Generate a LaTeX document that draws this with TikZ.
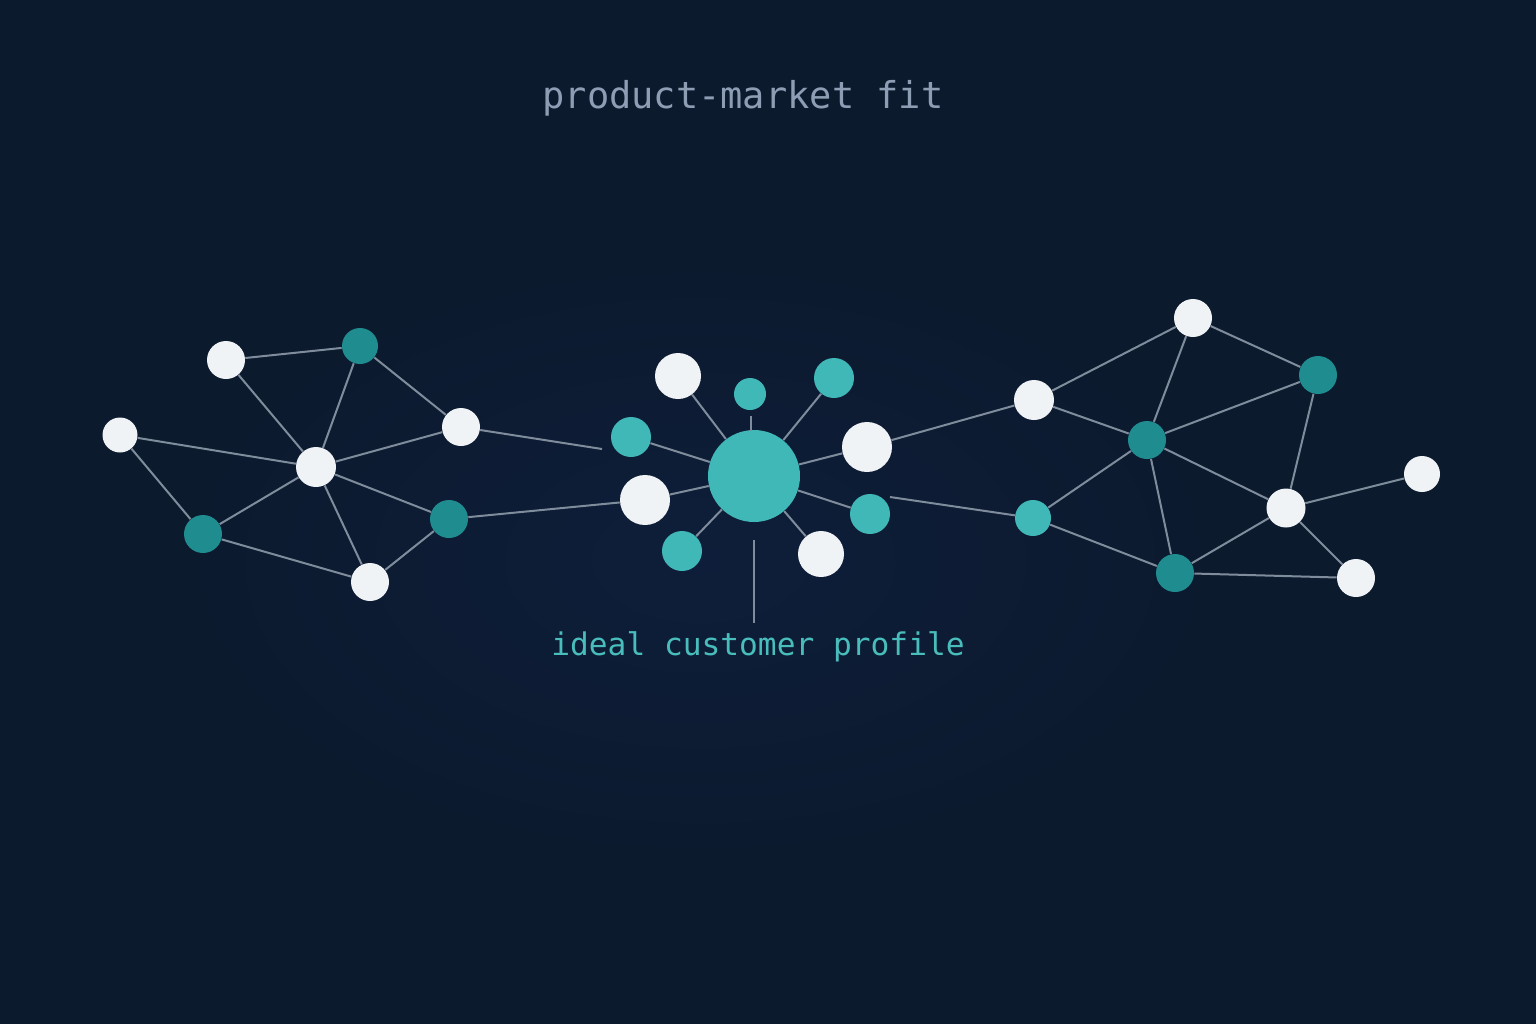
\documentclass[tikz,border=0pt]{standalone}
\usepackage{fontspec}
\setmonofont{DejaVu Sans Mono}
\definecolor{bg}{HTML}{0C1A2E}
\definecolor{bg2}{HTML}{0E1E3A}
\definecolor{wcol}{HTML}{F0F3F6}
\definecolor{tdk}{HTML}{1F8C90}
\definecolor{tlt}{HTML}{40B8B8}
\definecolor{edge}{HTML}{7F8C9C}
\definecolor{titlec}{HTML}{8D9DB3}
\definecolor{labc}{HTML}{48BDBB}
\tikzset{
  nd/.style={circle,inner sep=0pt,minimum size=#1*0.5pt},
  wn/.style={nd=#1,fill=wcol},
  dn/.style={nd=#1,fill=tdk},
  ln/.style={nd=#1,fill=tlt},
  ed/.style={draw=edge,line width=1pt},
}
\begin{document}
\begin{tikzpicture}[x=0.5pt,y=-0.5pt]
\fill[bg] (0,0) rectangle (1536,1024);
\useasboundingbox (0,0) rectangle (1536,1024);
\shade[inner color=bg2,outer color=bg] (700,560) ellipse (520 and 300);
% left cluster
\node[wn=38] (L1) at (226,360) {};
\node[dn=36] (L2) at (360,346) {};
\node[wn=35] (L3) at (120,435) {};
\node[wn=40] (L4) at (316,467) {};
\node[wn=38] (L5) at (461,427) {};
\node[dn=38] (L6) at (203,534) {};
\node[dn=38] (L7) at (449,519) {};
\node[wn=38] (L8) at (370,582) {};
% hub
\node[ln=92] (C) at (754,476) {};
\node[wn=46] (H1) at (678,376) {};
\node[ln=32] (H2) at (750,394) {};
\node[ln=40] (H3) at (834,378) {};
\node[ln=40] (H4) at (631,437) {};
\node[wn=50] (H5) at (867,447) {};
\node[wn=50] (H6) at (645,500) {};
\node[ln=40] (H7) at (870,514) {};
\node[ln=40] (H8) at (682,551) {};
\node[wn=46] (H9) at (821,554) {};
% right cluster
\node[wn=40] (R1) at (1034,400) {};
\node[wn=38] (R2) at (1193,318) {};
\node[dn=38] (R3) at (1318,375) {};
\node[dn=38] (R4) at (1147,440) {};
\node[wn=36] (R5) at (1422,474) {};
\node[wn=39] (R6) at (1286,508) {};
\node[ln=36] (R7) at (1033,518) {};
\node[dn=38] (R8) at (1175,573) {};
\node[wn=38] (R9) at (1356,578) {};
% free ends
\coordinate (e1) at (602,449);
\coordinate (e2) at (890,497);
\coordinate (v1) at (754,540);
\coordinate (v2) at (754,623);
\coordinate (h2a) at (751,416);
\coordinate (h2b) at (751,431);
% edges
\foreach \a/\b in {L1/L2,L1/L4,L2/L4,L2/L5,L3/L4,L3/L6,L4/L5,L4/L6,L4/L7,L4/L8,L6/L8,L8/L7,L7/H6,
  C/H1,C/H3,C/H4,C/H5,C/H6,C/H7,C/H8,C/H9,
  H5/R1,R1/R2,R1/R4,R2/R4,R2/R3,R3/R4,R3/R6,R4/R6,R4/R7,R4/R8,R6/R5,R6/R8,R6/R9,R8/R9,R7/R8}
  \draw[ed] (\a) -- (\b);
\draw[ed] (L5) -- (e1);
\draw[ed] (e2) -- (R7);
\draw[ed] (h2a) -- (h2b);
\draw[ed] (v1) -- (v2);
% texts
\node[font=\ttfamily\fontsize{18.5}{22}\selectfont,text=titlec] (title) at (743,98) {product-market fit};
\node[font=\ttfamily\fontsize{15.6}{19}\selectfont,text=labc] (label) at (758,647) {ideal customer profile};
\end{tikzpicture}
\end{document}
